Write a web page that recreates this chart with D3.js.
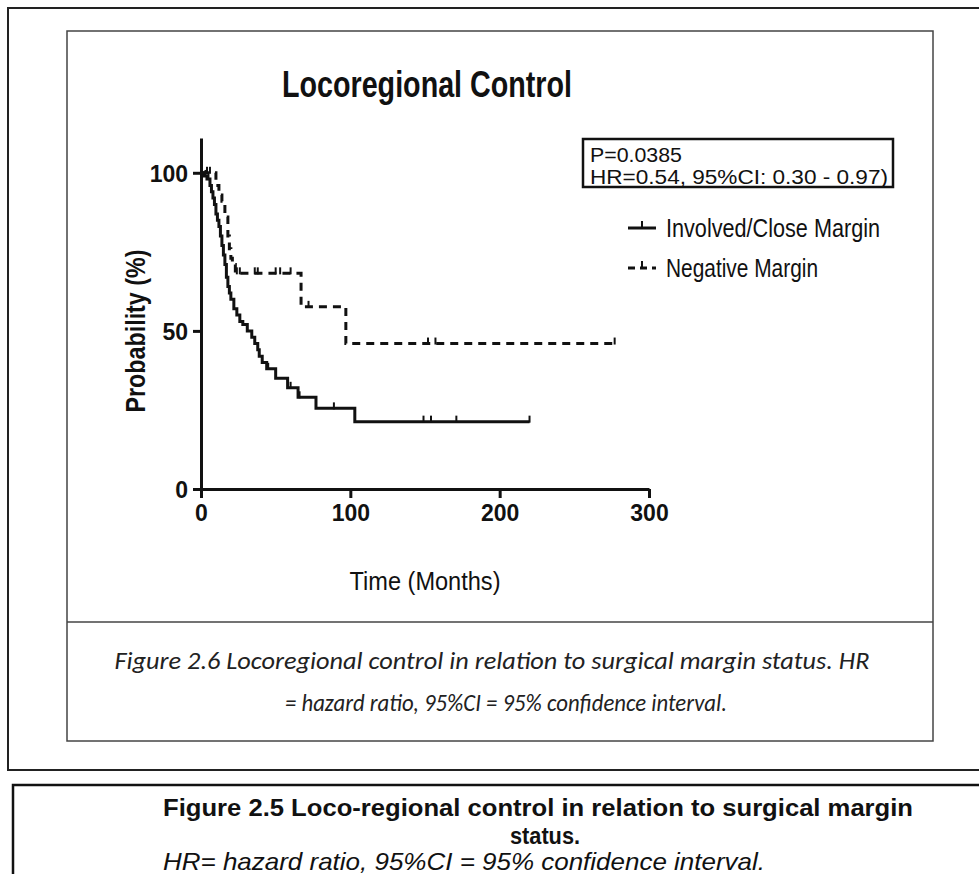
<!DOCTYPE html>
<html>
<head>
<meta charset="utf-8">
<script src="https://cdn.jsdelivr.net/npm/d3@7"></script>
<style>
  html, body { margin: 0; padding: 0; background: #fff; }
  svg { display: block; }
</style>
</head>
<body>
<svg id="chart" width="979" height="874"></svg>
<script>
// ---- Data ----
const chartTitle = "Locoregional Control";
const xTicks = [0, 100, 200, 300];
const yTicks = [0, 50, 100];

// Involved/Close Margin: step times (months) and survival (%)
const involvedTimes = [0, 2, 4, 6, 7, 8, 9, 10, 11, 12, 13, 14, 15, 16, 17, 18, 19, 20, 22, 24, 26, 28, 31, 34, 36, 38, 39, 41, 44, 50, 58, 65, 77, 103, 220];
const involvedSurv  = [100, 99, 98, 96, 94, 92, 90, 87, 85, 83, 80, 77, 74, 71, 67, 64, 62, 60, 57, 55, 53, 52, 50, 48, 46, 44, 42, 40, 38, 35, 32, 29, 25.5, 21.3, 21.3];
const involvedCensor = [3, 5, 45, 60, 66, 89, 149, 154, 171, 220];

// Negative Margin
const negativeTimes = [0, 10, 12, 14, 16, 18, 19, 20, 21, 23, 67, 97, 277];
const negativeSurv  = [100, 96, 93, 91, 86, 80, 76, 73, 71, 68.2, 57.6, 46, 46];
const negativeCensor = [4, 6, 24, 26, 36, 38, 50, 53, 60, 72, 152, 157, 277];

const statLines = ["P=0.0385", "HR=0.54, 95%CI: 0.30 - 0.97)"];
const legendLabels = ["Involved/Close Margin", "Negative Margin"];
const captionLines = ["Figure 2.6 Locoregional control in relation to surgical margin status. HR",
                      "= hazard ratio, 95%CI = 95% confidence interval."];
const lowerCaption = ["Figure 2.5 Loco-regional control in relation to surgical margin", "status.",
                      "HR= hazard ratio, 95%CI = 95% confidence interval."];

// ---- Drawing ----
const SANS = "'Liberation Sans', Arial, sans-serif";
const CAP = "Carlito, Calibri, Lato, 'Open Sans', sans-serif";
const svg = d3.select("#chart");

function txt(g, s, opts) {
  const t = g.append("text").text(s)
    .style("font-family", opts.family || SANS)
    .style("font-size", opts.size + "px")
    .style("font-weight", opts.bold ? "bold" : "normal")
    .style("font-style", opts.italic ? "italic" : "normal")
    .style("fill", opts.fill || "#111");
  if (opts.x !== undefined) t.attr("x", opts.x);
  if (opts.y !== undefined) t.attr("y", opts.y);
  if (opts.anchor) t.attr("text-anchor", opts.anchor);
  if (opts.len) t.attr("textLength", opts.len).attr("lengthAdjust", "spacingAndGlyphs");
  if (opts.transform) t.attr("transform", opts.transform);
  return t;
}

// outer frames
svg.append("rect").attr("x", 8).attr("y", 8).attr("width", 990).attr("height", 762)
  .attr("fill", "none").attr("stroke", "#222").attr("stroke-width", 2);
svg.append("rect").attr("x", 67).attr("y", 31).attr("width", 866).attr("height", 710)
  .attr("fill", "none").attr("stroke", "#444").attr("stroke-width", 1.5);
svg.append("line").attr("x1", 67).attr("x2", 933).attr("y1", 622).attr("y2", 622)
  .attr("stroke", "#444").attr("stroke-width", 1.5);
svg.append("rect").attr("x", 13).attr("y", 785).attr("width", 990).attr("height", 120)
  .attr("fill", "none").attr("stroke", "#111").attr("stroke-width", 2.5);

// scales
const x = d3.scaleLinear().domain([0, 300]).range([201, 649]);
const y = d3.scaleLinear().domain([0, 111]).range([489, 138]);

// title
txt(svg, chartTitle, { x: 427, y: 97, anchor: "middle", size: 36, bold: true, len: 290 });

// axes
const yAxis = d3.axisLeft(y).tickValues(yTicks).tickSize(8).tickSizeOuter(0).tickPadding(6);
const gy = svg.append("g").attr("transform", `translate(${x(0)},0)`).call(yAxis);
const xAxis = d3.axisBottom(x).tickValues(xTicks).tickSize(9).tickSizeOuter(0).tickPadding(9);
const gx = svg.append("g").attr("transform", `translate(0,${y(0)})`).call(xAxis);
[gx, gy].forEach(g => {
  g.select(".domain").attr("stroke", "#111").attr("stroke-width", 3);
  g.selectAll(".tick line").attr("stroke", "#111").attr("stroke-width", 3);
  g.selectAll(".tick text")
    .style("font-size", "23px").style("font-weight", "bold")
    .style("font-family", SANS).style("fill", "#111");
});
gy.selectAll(".tick text").attr("dy", "0.36em").attr("x", -13);
gx.selectAll(".tick text").attr("y", 16);

// axis labels
txt(svg, "Probability (%)", { transform: "translate(145,331) rotate(-90)", anchor: "middle", size: 27, bold: true, len: 163 });
txt(svg, "Time (Months)", { x: 425, y: 590, anchor: "middle", size: 25, len: 151 });

// curves
const line = d3.line().x(d => x(d[0])).y(d => y(d[1])).curve(d3.curveStepAfter);
const series = [
  { times: involvedTimes, surv: involvedSurv, censor: involvedCensor, dash: null },
  { times: negativeTimes, surv: negativeSurv, censor: negativeCensor, dash: "8,6" }
];
function survAt(s, t) {
  let v = s.surv[0];
  for (let i = 0; i < s.times.length; i++) if (s.times[i] <= t) v = s.surv[i];
  return v;
}
series.forEach(s => {
  const pts = s.times.map((t, i) => [t, s.surv[i]]);
  const p = svg.append("path").attr("d", line(pts)).attr("fill", "none")
    .attr("stroke", "#111").attr("stroke-width", 3);
  if (s.dash) p.attr("stroke-dasharray", s.dash);
  svg.append("g").selectAll("line").data(s.censor).join("line")
    .attr("x1", d => x(d)).attr("x2", d => x(d))
    .attr("y1", d => y(survAt(s, d)) + 1).attr("y2", d => y(survAt(s, d)) - 6)
    .attr("stroke", "#111").attr("stroke-width", 2);
});

// stats box
svg.append("rect").attr("x", 583).attr("y", 139).attr("width", 310).attr("height", 48)
  .attr("fill", "#fff").attr("stroke", "#111").attr("stroke-width", 2.5);
txt(svg, statLines[0], { x: 590, y: 162, size: 20, len: 92 });
txt(svg, statLines[1], { x: 590, y: 184, size: 20, len: 298 });

// legend
const lg = svg.append("g");
lg.append("line").attr("x1", 628).attr("x2", 656).attr("y1", 228).attr("y2", 228)
  .attr("stroke", "#111").attr("stroke-width", 3);
lg.append("line").attr("x1", 642).attr("x2", 642).attr("y1", 229).attr("y2", 221)
  .attr("stroke", "#111").attr("stroke-width", 2);
lg.append("line").attr("x1", 628).attr("x2", 656).attr("y1", 268).attr("y2", 268)
  .attr("stroke", "#111").attr("stroke-width", 3).attr("stroke-dasharray", "7,5");
lg.append("line").attr("x1", 642).attr("x2", 642).attr("y1", 269).attr("y2", 261)
  .attr("stroke", "#111").attr("stroke-width", 2);
txt(lg, legendLabels[0], { x: 666, y: 237, size: 25, len: 214 });
txt(lg, legendLabels[1], { x: 666, y: 277, size: 25, len: 152 });

// caption inside inner box
txt(svg, captionLines[0], { x: 492, y: 669, anchor: "middle", size: 25, italic: true, family: CAP, fill: "#222", len: 755 });
txt(svg, captionLines[1], { x: 506, y: 711, anchor: "middle", size: 25, italic: true, family: CAP, fill: "#222", len: 442 });

// lower caption
txt(svg, lowerCaption[0], { x: 163, y: 816, size: 24, bold: true, len: 750 });
txt(svg, lowerCaption[1], { x: 545, y: 844, anchor: "middle", size: 24, bold: true, len: 70 });
txt(svg, lowerCaption[2], { x: 163, y: 870, size: 24, italic: true, len: 602 });
</script>
</body>
</html>
